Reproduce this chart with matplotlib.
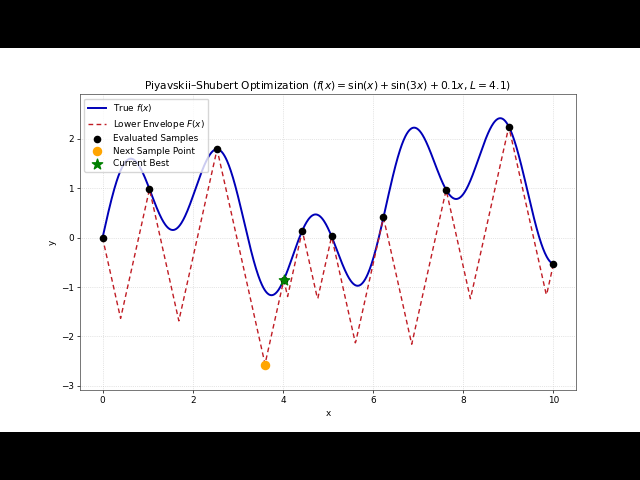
import matplotlib
matplotlib.use("Agg")
import matplotlib.pyplot as plt
from matplotlib.patches import Rectangle
import numpy as np

# Problem settings (from the title)
L = 4.1
x_min, x_max = 0.0, 10.0

# Evaluated sample locations
sample_x = [0.0, 1.04, 2.54, 4.02, 4.43, 5.08, 6.23, 7.62, 9.01, 10.0]

# Next sample point (envelope minimum) and current best
next_x, next_y = 3.60, -2.57
best_x = 4.02


def f(x):
    return np.sin(x) + np.sin(3 * x) + 0.1 * x


def lower_envelope(x, xs, ys, L):
    xs = np.asarray(xs)[:, None]
    ys = np.asarray(ys)[:, None]
    return np.max(ys - L * np.abs(x[None, :] - xs), axis=0)


def main():
    xs = np.linspace(x_min, x_max, 1000)
    sample_y = f(np.array(sample_x))
    best_y = f(best_x)
    env = lower_envelope(xs, sample_x, sample_y, L)

    fig = plt.figure(figsize=(6.4, 4.8), dpi=100, facecolor="black")
    # white content area (letterboxed)
    fig.patches.append(Rectangle((0, 0.1), 1, 0.8, transform=fig.transFigure,
                                 facecolor="white", edgecolor="none", zorder=-1))
    ax = fig.add_axes([0.125, 0.188, 0.775, 0.616])

    s = 0.64
    ax.plot(xs, f(xs), color="#0000b8", lw=1.4, label="True $f(x)$")
    ax.plot(xs, env, "--", color="#c01c24", lw=1.0, dashes=(3.4, 2.4),
            label="Lower Envelope $F(x)$")
    ax.scatter(sample_x, sample_y, color="black", s=20, zorder=5,
               label="Evaluated Samples")
    ax.scatter([next_x], [next_y], color="orange", s=34, zorder=6,
               label="Next Sample Point")
    ax.scatter([best_x], [best_y], color="green", marker="*", s=60, zorder=7,
               label="Current Best")

    ax.set_xlim(-0.5, 10.5)
    ax.set_ylim(-3.08, 2.91)
    ax.set_xticks([0, 2, 4, 6, 8, 10])
    ax.set_yticks([-3, -2, -1, 0, 1, 2])
    ax.tick_params(labelsize=10 * s, width=0.8 * s, length=3.5 * s, pad=3.5 * s)
    for sp in ax.spines.values():
        sp.set_linewidth(0.8 * s)
        sp.set_color("#444444")
    ax.set_xlabel("x", fontsize=10 * s, labelpad=4 * s)
    ax.set_ylabel("y", fontsize=10 * s, labelpad=4 * s)
    ax.set_title("Piyavskii–Shubert Optimization ($f(x) = \\sin(x) + \\sin(3x) + 0.1x$, $L = 4.1$)",
                 fontsize=12 * s, pad=6 * s)
    ax.grid(True, linestyle=":", linewidth=0.8 * s, alpha=0.6)
    ax.legend(loc="upper left", fontsize=10 * s, borderpad=0.4, labelspacing=0.4,
              handlelength=2.0, framealpha=0.8)

    fig.savefig("out.png", dpi=100, facecolor=fig.get_facecolor())
    plt.close(fig)


if __name__ == "__main__":
    main()
